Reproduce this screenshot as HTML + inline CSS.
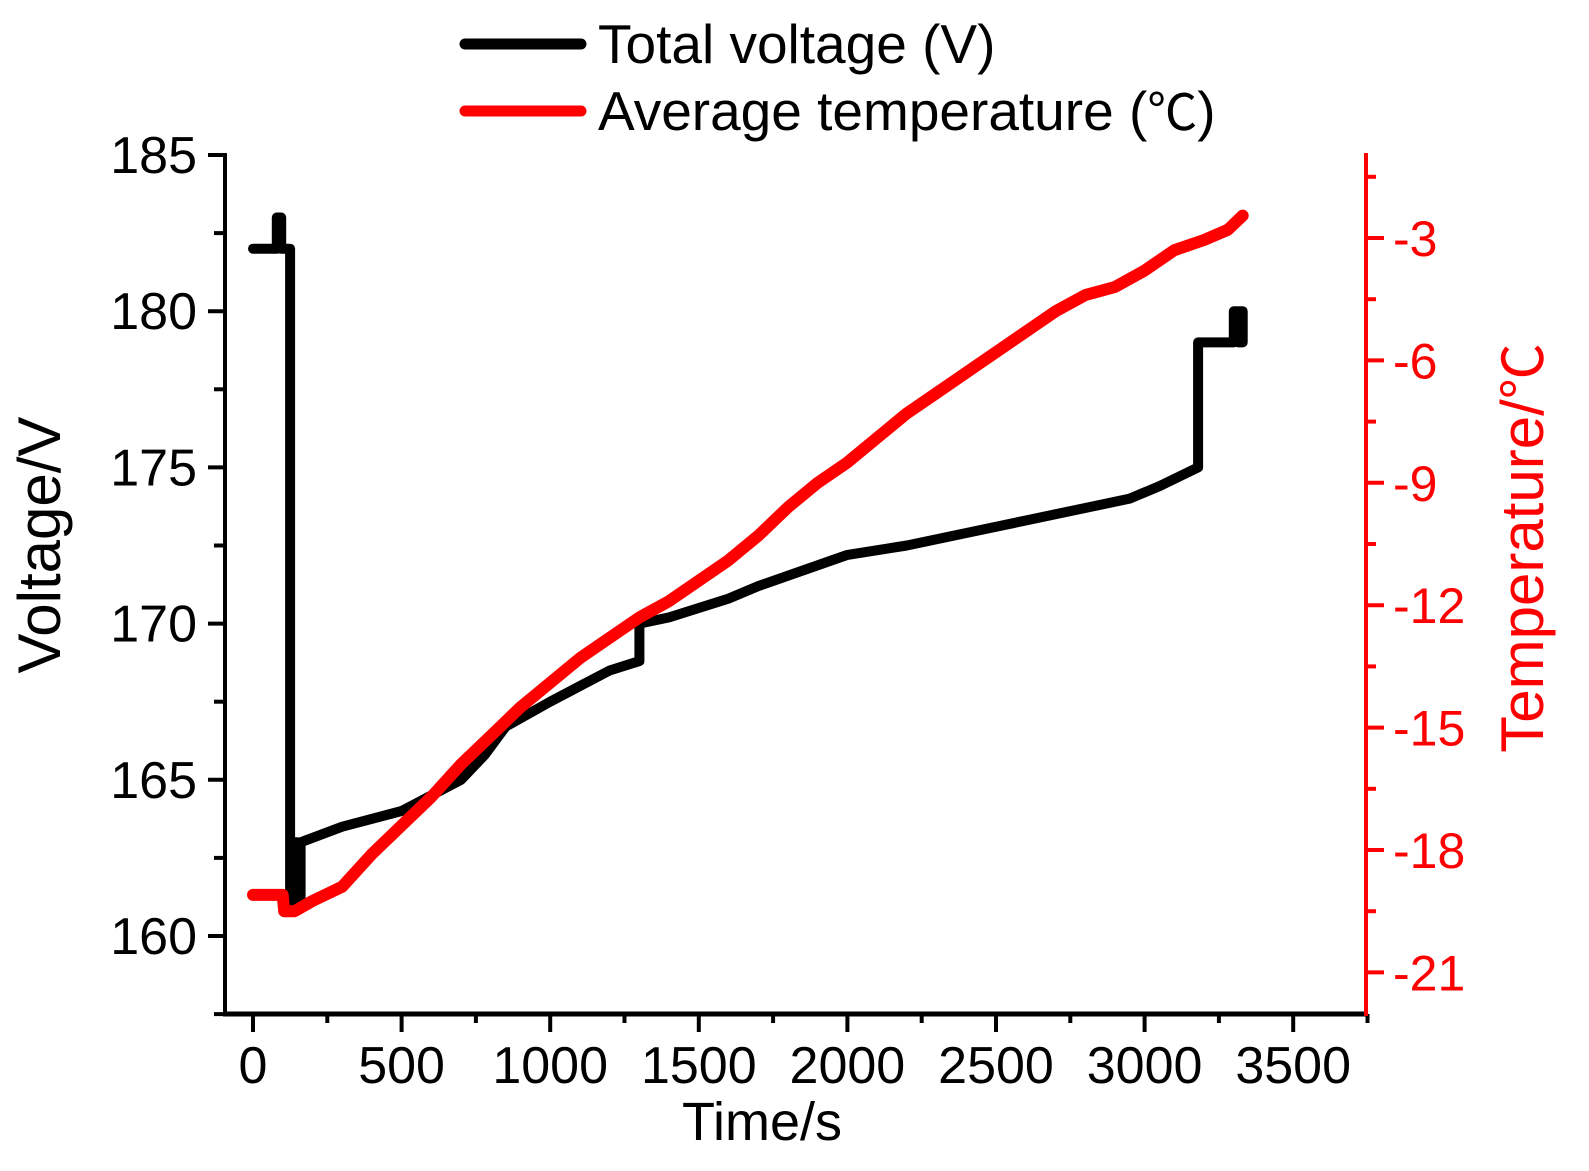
<!DOCTYPE html>
<html><head><meta charset="utf-8"><style>
html,body{margin:0;padding:0;background:#fff;}
svg{display:block;font-family:"Liberation Sans",Arial,"Noto Sans CJK SC",sans-serif;}
</style></head><body>
<svg id="s" width="1589" height="1171" viewBox="0 0 1589 1171" xmlns="http://www.w3.org/2000/svg">
<rect width="1589" height="1171" fill="#fff"/>
<line x1="465" y1="44" x2="581" y2="44" stroke="#000" stroke-width="11" stroke-linecap="round"/>
<text x="598" y="63" font-size="55">Total voltage (V)</text>
<line x1="465" y1="111" x2="581" y2="111" stroke="#f00" stroke-width="11" stroke-linecap="round"/>
<text x="598" y="130" font-size="55">Average temperature (<tspan font-family="Noto Sans CJK SC" font-size="50">℃</tspan>)</text>
<g id="g"></g>
<text x="762" y="1140" font-size="54" text-anchor="middle">Time/s</text>
<text transform="translate(60,545) rotate(-90)" font-size="60" text-anchor="middle">Voltage/V</text>
<text transform="translate(1543,548) rotate(-90)" font-size="60" text-anchor="middle" fill="#f00">Temperature/<tspan font-family="Noto Sans CJK SC" font-size="56">℃</tspan></text>
</svg>
<script>
var g=document.getElementById('g'),h='';
function X(t){return 253+t*0.2972;}
function VY(v){return 155+(185-v)*31.24;}
function TY(c){return 238+(-3-c)*40.8;}
h+='<line x1="225" y1="153" x2="225" y2="1016" stroke="#000" stroke-width="4"/>';
h+='<line x1="223" y1="1014" x2="1366" y2="1014" stroke="#000" stroke-width="5"/>';
for(var v=185;v>=157.5;v-=2.5){var y=VY(v);var maj=(v%5==0);
 h+='<line x1="'+(maj?208:214)+'" y1="'+y+'" x2="225" y2="'+y+'" stroke="#000" stroke-width="4"/>';
 if(maj)h+='<text x="197" y="'+(y+18)+'" font-size="52" text-anchor="end">'+v+'</text>';}
for(var t=0;t<=3750;t+=250){var x=X(t);var maj=(t%500==0);
 h+='<line x1="'+x+'" y1="1014" x2="'+x+'" y2="'+(maj?1032:1023)+'" stroke="#000" stroke-width="4"/>';
 if(maj)h+='<text x="'+x+'" y="1083" font-size="52" text-anchor="middle">'+t+'</text>';}
h+='<line x1="1366" y1="153" x2="1366" y2="1016" stroke="#f00" stroke-width="4"/>';
for(var c=-1.5;c>=-22.5;c-=1.5){var y=TY(c);if(y>1012)break;var maj=(Math.round(c*2)%6==0);
 h+='<line x1="1366" y1="'+y+'" x2="'+(maj?1384:1376)+'" y2="'+y+'" stroke="#f00" stroke-width="4"/>';
 if(maj)h+='<text x="1393" y="'+(y+18)+'" font-size="50" text-anchor="start" fill="#f00">'+c+'</text>';}
var V=[[0,182],[80,182],[80,183],[95,183],[95,182],[125,182],[125,161],[140,161],[140,163],[150,163],[150,161],[160,161],[160,163],[300,163.5],[500,164],[600,164.5],[700,165],[780,165.8],[850,166.7],[1000,167.5],[1100,168],[1200,168.5],[1300,168.8],[1300,170],[1400,170.2],[1500,170.5],[1600,170.8],[1700,171.2],[1850,171.7],[2000,172.2],[2200,172.5],[2400,172.9],[2600,173.3],[2800,173.7],[2950,174],[3050,174.4],[3180,175],[3180,179],[3300,179],[3300,180],[3315,180],[3315,179],[3330,179],[3330,180],[3320,180],[3320,179]];
var p=V.map(function(a){return X(a[0]).toFixed(1)+','+VY(a[1]).toFixed(1)}).join(' ');
h+='<polyline points="'+p+'" fill="none" stroke="#000" stroke-width="10" stroke-linejoin="round" stroke-linecap="round"/>';
var T=[[0,-19.1],[100,-19.1],[105,-19.5],[140,-19.5],[200,-19.25],[300,-18.9],[400,-18.1],[500,-17.4],[600,-16.7],[700,-15.9],[800,-15.2],[900,-14.5],[1000,-13.9],[1100,-13.3],[1200,-12.8],[1300,-12.3],[1400,-11.9],[1500,-11.4],[1600,-10.9],[1700,-10.3],[1800,-9.6],[1900,-9.0],[2000,-8.5],[2100,-7.9],[2200,-7.3],[2300,-6.8],[2400,-6.3],[2500,-5.8],[2600,-5.3],[2700,-4.8],[2800,-4.4],[2900,-4.2],[3000,-3.8],[3100,-3.3],[3200,-3.05],[3280,-2.8],[3330,-2.45]];
var q=T.map(function(a){return X(a[0]).toFixed(1)+','+TY(a[1]).toFixed(1)}).join(' ');
h+='<polyline points="'+q+'" fill="none" stroke="#f00" stroke-width="12" stroke-linejoin="round" stroke-linecap="round"/>';
g.innerHTML=h;
</script>
</body></html>
